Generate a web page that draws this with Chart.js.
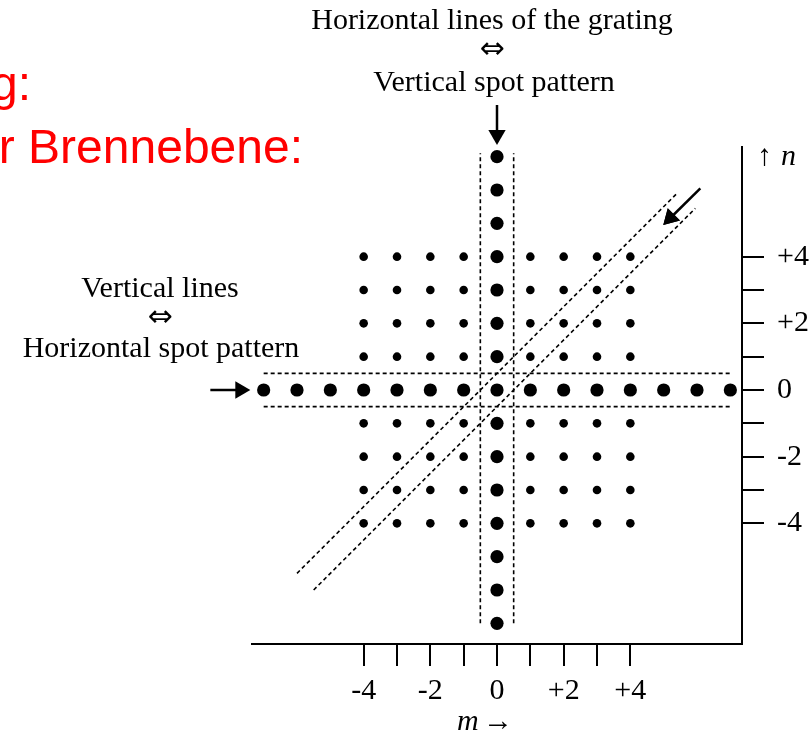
<!DOCTYPE html>
<html>
<head>
<meta charset="utf-8">
<script src="https://cdn.jsdelivr.net/npm/chart.js@4/dist/chart.umd.min.js"></script>
<style>
  html, body { margin: 0; padding: 0; background: #fff; }
  canvas { display: block; }
</style>
</head>
<body>
<canvas id="chartSpots" width="809" height="736"></canvas>
<script>
// diffraction orders shown as spots
const gridOrders = [-4, -3, -2, -1, 0, 1, 2, 3, 4];
const lineOrders = [-7, -6, -5, -4, -3, -2, -1, 0, 1, 2, 3, 4, 5, 6, 7];

// axis ticks
const mTicks = [-4, -3, -2, -1, 0, 1, 2, 3, 4];
const mTickLabels = ['-4', '', '-2', '', '0', '', '+2', '', '+4'];
const nTicks = [-4, -3, -2, -1, 0, 1, 2, 3, 4];
const nTickLabels = ['-4', '', '-2', '', '0', '', '+2', '', '+4'];

// dashed guide lines, [m, n] end points
const bandRowTop = [[-7, 0.5], [7, 0.5]];
const bandRowBottom = [[-7, -0.5], [7, -0.5]];
const bandColLeft = [[-0.5, -7], [-0.5, 7.1]];
const bandColRight = [[0.5, -7], [0.5, 7.1]];
const diagUpper = [[-6.0, -5.5], [5.4, 5.9]];
const diagLower = [[-5.5, -6.0], [5.95, 5.45]];

// arrows, head first then tail
const arrowLeft = [[-7.7, 0], [-8.6, 0]];
const arrowTop = [[0, 7.65], [0, 8.55]];
const arrowDiag = [[5.2, 5.16], [6.1, 6.05]];

const pts = arr => arr.map(p => ({ x: p[0], y: p[1] }));

// spots
const smallSpots = [];
gridOrders.forEach(m => gridOrders.forEach(n => {
    if (m !== 0 && n !== 0) smallSpots.push({ x: m, y: n });
}));
const bigSpots = [];
lineOrders.forEach(m => bigSpots.push({ x: m, y: 0 }));
lineOrders.forEach(n => { if (n !== 0) bigSpots.push({ x: 0, y: n }); });

const serif = "'Liberation Serif', 'Times New Roman', serif";

function dashed(data) {
    return {
        data: pts(data),
        showLine: true,
        borderColor: '#000',
        borderWidth: 1.6,
        borderDash: [4, 3],
        pointRadius: 0,
        clip: false
    };
}

function arrow(data, rot) {
    return {
        data: pts(data),
        showLine: true,
        isArrow: true,
        borderColor: '#000',
        borderWidth: 2.5,
        pointRadius: [10, 0],
        pointStyle: 'triangle',
        pointRotation: [rot, 0],
        pointBackgroundColor: '#000',
        pointBorderWidth: 0,
        clip: false
    };
}

// arrow heads sit outside the chart area, so draw their point elements again without the area check
const arrowHeadPlugin = {
    id: 'arrowHeads',
    afterDatasetsDraw(chart) {
        const full = { left: 0, top: 0, right: chart.width, bottom: chart.height };
        chart.data.datasets.forEach((ds, i) => {
            if (!ds.isArrow) return;
            const head = chart.getDatasetMeta(i).data[0];
            if (head) head.draw(chart.ctx, full);
        });
    }
};

// text annotations around the plot
const labelsPlugin = {
    id: 'labels',
    afterDraw(chart) {
        const ctx = chart.ctx;
        ctx.save();
        ctx.fillStyle = '#000';
        ctx.textAlign = 'center';
        ctx.textBaseline = 'alphabetic';
        ctx.font = '30px ' + serif;
        ctx.fillText('Horizontal lines of the grating', 492, 29);
        ctx.fillText('Vertical spot pattern', 494, 91);
        ctx.fillText('Vertical lines', 160, 297);
        ctx.fillText('Horizontal spot pattern', 161, 357);
        ctx.textBaseline = 'middle';
        ctx.font = "30px 'DejaVu Sans', sans-serif";
        ctx.fillText('\u21D4', 492, 50);
        ctx.fillText('\u21D4', 160, 318);

        // axis names
        ctx.textBaseline = 'alphabetic';
        ctx.textAlign = 'left';
        ctx.font = 'italic 30px ' + serif;
        ctx.fillText('m', 457, 730);
        ctx.fillText('n', 781, 165);
        ctx.font = '30px ' + serif;
        ctx.fillText('\u2192', 483, 730);
        ctx.fillText('\u2191', 757, 165);

        // red heading, cut by the left edge
        ctx.fillStyle = '#ff0000';
        ctx.textAlign = 'right';
        ctx.font = "48px 'Liberation Sans', Arial, sans-serif";
        ctx.fillText('g:', 31, 100);
        ctx.fillText('r Brennebene:', 303, 163);
        ctx.restore();
    }
};

new Chart(document.getElementById('chartSpots'), {
    type: 'scatter',
    data: {
        datasets: [
            dashed(bandRowTop),
            dashed(bandRowBottom),
            dashed(bandColLeft),
            dashed(bandColRight),
            dashed(diagUpper),
            dashed(diagLower),
            {
                data: smallSpots,
                pointRadius: 4.3,
                pointBackgroundColor: '#000',
                pointBorderWidth: 0,
                clip: false
            },
            {
                data: bigSpots,
                pointRadius: 6.6,
                pointBackgroundColor: '#000',
                pointBorderWidth: 0,
                clip: false
            },
            arrow(arrowLeft, 90),
            arrow(arrowTop, 180),
            arrow(arrowDiag, 225)
        ]
    },
    options: {
        responsive: false,
        animation: false,
        events: [],
        layout: { padding: { left: 252, top: 147, right: 0, bottom: 0 } },
        plugins: {
            legend: { display: false },
            tooltip: { enabled: false }
        },
        scales: {
            x: {
                type: 'linear',
                position: 'bottom',
                min: -7.35,
                max: 7.35,
                afterFit: s => { s.height = 92; },
                afterBuildTicks: s => { s.ticks = mTicks.map(v => ({ value: v })); },
                ticks: {
                    autoSkip: false,
                    maxRotation: 0,
                    padding: 7,
                    color: '#000',
                    font: { family: serif, size: 30 },
                    callback: (v, i) => mTickLabels[i]
                },
                grid: { drawOnChartArea: false, tickLength: 22, color: '#000', lineWidth: 2 },
                border: { color: '#000', width: 2 }
            },
            y: {
                type: 'linear',
                position: 'right',
                min: -7.62,
                max: 7.29,
                afterFit: s => { s.width = 67; },
                afterBuildTicks: s => { s.ticks = nTicks.map(v => ({ value: v })); },
                ticks: {
                    autoSkip: false,
                    padding: 13,
                    color: '#000',
                    font: { family: serif, size: 30 },
                    callback: (v, i) => nTickLabels[i]
                },
                grid: { drawOnChartArea: false, tickLength: 22, color: '#000', lineWidth: 2 },
                border: { color: '#000', width: 2 }
            }
        }
    },
    plugins: [arrowHeadPlugin, labelsPlugin]
});
</script>
</body>
</html>
